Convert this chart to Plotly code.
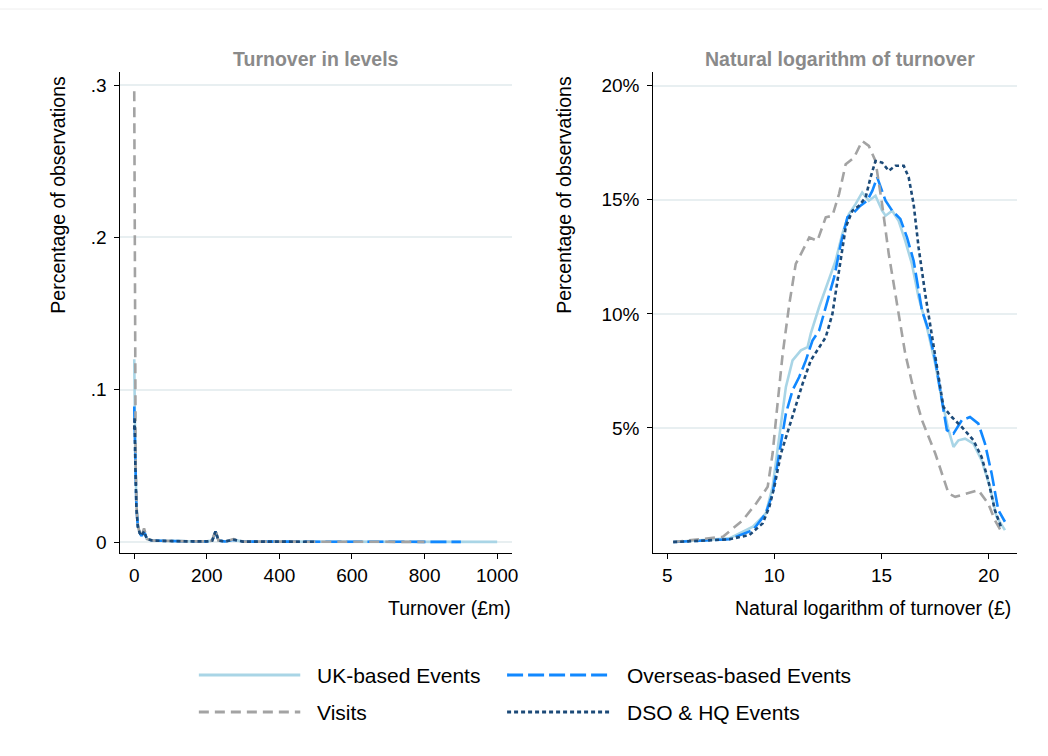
import plotly.graph_objects as go

# ---------------- data: turnover in levels (£m) ----------------
lvl_uk_x = [0, 1, 3, 6, 10, 15, 20, 27, 35, 50, 75, 100, 150, 200, 215, 224, 232, 250, 274, 300, 400, 500, 600, 700, 800, 900, 1000]
lvl_uk_y = [0.120, 0.095, 0.055, 0.025, 0.011, 0.006, 0.004, 0.007, 0.002, 0.001, 0.0008, 0.0006, 0.0004, 0.0004, 0.001, 0.007, 0.001, 0.0004, 0.0015, 0.0003, 0.0002, 0.0002, 0.0001, 0.0001, 0.0001, 0.0001, 0.0001]

lvl_os_x = [0, 1, 3, 6, 10, 15, 20, 27, 35, 50, 75, 100, 150, 200, 215, 224, 232, 250, 274, 300, 400, 500, 600, 700, 800, 900]
lvl_os_y = [0.089, 0.075, 0.045, 0.022, 0.010, 0.006, 0.004, 0.007, 0.002, 0.001, 0.0008, 0.0006, 0.0004, 0.0004, 0.001, 0.007, 0.001, 0.0004, 0.0015, 0.0003, 0.0002, 0.0002, 0.0001, 0.0001, 0.0001, 0.0001]

lvl_vi_x = [0, 0.5, 2, 4, 7, 10, 15, 20, 27, 35, 50, 75, 100, 150, 200, 215, 224, 232, 250, 274, 300, 400, 500, 600, 700, 800]
lvl_vi_y = [0.296, 0.25, 0.12, 0.05, 0.02, 0.011, 0.006, 0.004, 0.009, 0.002, 0.001, 0.0008, 0.0006, 0.0004, 0.0004, 0.001, 0.008, 0.001, 0.0004, 0.002, 0.0003, 0.0002, 0.0002, 0.0001, 0.0001, 0.0001]

lvl_hq_x = [0, 1, 3, 6, 10, 15, 20, 27, 35, 50, 75, 100, 150, 200, 215, 224, 232, 250, 274, 300, 400, 500]
lvl_hq_y = [0.074, 0.082, 0.050, 0.022, 0.010, 0.006, 0.004, 0.007, 0.002, 0.001, 0.0008, 0.0006, 0.0004, 0.0004, 0.001, 0.007, 0.001, 0.0004, 0.0015, 0.0003, 0.0002, 0.0002]

# ---------------- data: natural logarithm of turnover (%) ----------------
log_uk_x = [5.28, 7.9, 9.0, 9.6, 9.92, 10.23, 10.54, 10.85, 11.24, 11.55, 11.7, 12.09, 12.48, 12.86, 13.17, 13.48, 13.79, 14.1, 14.41, 14.72, 15.03, 15.19, 15.5, 15.8, 16.11, 16.42, 16.73, 17.12, 17.51, 17.82, 18.13, 18.36, 18.59, 18.9, 19.29, 19.67, 20.06, 20.37, 20.76]
log_uk_y = [0.0, 0.16, 0.67, 1.25, 2.42, 4.6, 6.8, 7.96, 8.4, 8.54, 9.13, 10.3, 11.31, 12.33, 13.5, 14.37, 14.81, 15.32, 14.96, 15.18, 14.52, 14.3, 14.52, 14.08, 13.2, 12.19, 10.73, 9.42, 7.81, 6.21, 4.9, 4.17, 4.46, 4.53, 4.31, 3.59, 2.42, 1.11, 0.52]

log_os_x = [5.28, 7.9, 9.0, 9.6, 9.92, 10.23, 10.54, 10.85, 11.16, 11.47, 11.78, 12.09, 12.48, 12.79, 13.1, 13.41, 13.72, 14.02, 14.33, 14.57, 14.8, 14.96, 15.19, 15.5, 15.88, 16.19, 16.5, 16.89, 17.2, 17.51, 17.82, 18.05, 18.36, 18.75, 19.13, 19.52, 19.83, 20.14, 20.45, 20.76]
log_os_y = [0.0, 0.12, 0.52, 1.25, 2.13, 3.88, 5.63, 6.65, 7.23, 7.96, 8.83, 9.27, 10.58, 11.6, 13.06, 14.23, 14.45, 14.74, 14.96, 15.39, 15.98, 15.54, 14.96, 14.52, 14.16, 13.35, 12.33, 10.15, 9.27, 7.96, 6.21, 4.9, 4.75, 5.34, 5.48, 5.19, 4.31, 3.0, 1.4, 0.89]

log_vi_x = [5.28, 7.6, 8.53, 9.15, 9.69, 9.92, 10.15, 10.39, 10.7, 11.0, 11.32, 11.63, 12.01, 12.4, 12.71, 13.02, 13.33, 13.72, 14.1, 14.41, 14.72, 15.03, 15.34, 15.73, 16.11, 16.58, 16.89, 17.51, 18.13, 18.44, 19.06, 19.52, 19.98, 20.29, 20.6]
log_vi_y = [0.0, 0.23, 0.96, 1.69, 2.42, 3.88, 6.06, 8.25, 10.44, 12.19, 12.77, 13.35, 13.2, 14.23, 14.3, 15.25, 16.56, 16.85, 17.58, 17.36, 16.7, 14.8, 12.62, 10.44, 8.25, 6.36, 5.34, 3.88, 2.13, 1.98, 2.13, 2.27, 1.69, 0.96, 0.45]

log_hq_x = [5.28, 7.9, 8.84, 9.46, 9.77, 10.0, 10.31, 10.7, 11.0, 11.32, 11.7, 12.01, 12.4, 12.71, 13.02, 13.33, 13.64, 13.95, 14.26, 14.49, 14.72, 15.03, 15.34, 15.65, 16.04, 16.27, 16.5, 16.73, 17.04, 17.35, 17.66, 17.89, 18.28, 18.75, 19.29, 19.67, 19.98, 20.29, 20.6]
log_hq_y = [0.0, 0.12, 0.31, 0.82, 1.55, 2.42, 3.88, 5.04, 5.92, 6.94, 7.96, 8.4, 8.98, 10.0, 11.9, 13.79, 14.52, 14.74, 15.1, 15.98, 16.7, 16.63, 16.27, 16.49, 16.49, 15.98, 14.81, 12.92, 10.88, 9.13, 7.38, 5.92, 5.48, 5.04, 4.46, 3.73, 2.71, 1.4, 0.6]

series_names = ["UK-based Events", "Overseas-based Events", "Visits", "DSO & HQ Events"]
lvl_xtick_vals = [0, 200, 400, 600, 800, 1000]
lvl_ytick_vals = [0, 0.1, 0.2, 0.3]
lvl_ytick_text = ["0", ".1", ".2", ".3"]
log_xtick_vals = [5, 10, 15, 20]
log_ytick_vals = [5, 10, 15, 20]
log_ytick_text = ["5%", "10%", "15%", "20%"]

# ---------------- styles ----------------
W, H = 1048, 756
colors = ["#a9d5e6", "#1188ff", "#a3a3a3", "#1c4a78"]
dashes = ["solid", "16px,5px", "10px,6px", "4px,3px"]
widths = [2.6, 2.6, 2.6, 2.6]
FONT = "Liberation Sans, Arial, Helvetica, sans-serif"


def px(x):
    return x / W


def py(y):
    return 1 - y / H


fig = go.Figure()

lvl = [(lvl_uk_x, lvl_uk_y), (lvl_os_x, lvl_os_y), (lvl_vi_x, lvl_vi_y), (lvl_hq_x, lvl_hq_y)]
lg = [(log_uk_x, log_uk_y), (log_os_x, log_os_y), (log_vi_x, log_vi_y), (log_hq_x, log_hq_y)]
draw_order = [0, 1, 2, 3]
for i in draw_order:
    fig.add_trace(go.Scatter(x=lvl[i][0], y=lvl[i][1], mode="lines", name=series_names[i],
                             line=dict(color=colors[i], dash=dashes[i], width=widths[i]),
                             xaxis="x", yaxis="y", showlegend=False))
for i in draw_order:
    fig.add_trace(go.Scatter(x=lg[i][0], y=lg[i][1], mode="lines", name=series_names[i],
                             line=dict(color=colors[i], dash=dashes[i], width=widths[i]),
                             xaxis="x2", yaxis="y2", showlegend=False))

ydom = [py(553), py(72)]
axis_common = dict(showline=True, linecolor="black", linewidth=1, ticks="outside",
                   ticklen=5, tickwidth=1, tickcolor="black", zeroline=False,
                   tickfont=dict(size=19, color="black", family=FONT))

fig.update_layout(
    width=W, height=H, margin=dict(l=0, r=0, t=0, b=0),
    paper_bgcolor="white", plot_bgcolor="white",
    font=dict(family=FONT, size=19, color="black"),
    showlegend=False,
    xaxis=dict(domain=[px(121), px(515)], range=[-38.4, 1041], tickvals=lvl_xtick_vals,
               showgrid=False, anchor="y", **axis_common),
    yaxis=dict(domain=ydom, range=[-0.0072, 0.3086], tickvals=lvl_ytick_vals, ticktext=lvl_ytick_text,
               showgrid=True, gridcolor="#e8eff1", gridwidth=1.5, anchor="x",
               ticklabelstandoff=4, **axis_common),
    xaxis2=dict(domain=[px(657), px(1023)], range=[4.35, 21.33], tickvals=log_xtick_vals,
                showgrid=False, anchor="y2", **axis_common),
    yaxis2=dict(domain=ydom, range=[-0.48, 20.6], tickvals=log_ytick_vals, ticktext=log_ytick_text,
                showgrid=True, gridcolor="#e8eff1", gridwidth=1.5, anchor="x2",
                ticklabelstandoff=4, **axis_common),
)

annotations = [
    dict(text="<b>Turnover in levels</b>", x=px(318), y=py(59), font=dict(size=19.5, color="#8a8a8a")),
    dict(text="<b>Natural logarithm of turnover</b>", x=px(845), y=py(59), font=dict(size=19.5, color="#8a8a8a")),
    dict(text="Percentage of observations", x=px(58), y=py(195), textangle=-90, font=dict(size=19.5)),
    dict(text="Percentage of observations", x=px(567), y=py(195), textangle=-90, font=dict(size=19.5)),
    dict(text="Turnover (£m)", x=px(516), y=py(608), xanchor="right", font=dict(size=19.5)),
    dict(text="Natural logarithm of turnover (£)", x=px(1019), y=py(608), xanchor="right", font=dict(size=19.5)),
]

# legend (manual, two columns)
leg_rows = [py(675), py(712)]
leg_cols = [(200, 302, 317), (510, 613, 629)]
leg_pos = [(0, 0), (0, 1), (1, 0), (1, 1)]  # (row, col) per series
shapes = [dict(type="line", xref="paper", yref="paper", x0=0, x1=1, y0=py(9), y1=py(9),
               line=dict(color="#eeeeee", width=1))]
for i, (r, c) in enumerate(leg_pos):
    x0, x1, xt = leg_cols[c]
    shapes.append(dict(type="line", xref="paper", yref="paper", x0=px(x0), x1=px(x1),
                       y0=leg_rows[r], y1=leg_rows[r],
                       line=dict(color=colors[i], dash=dashes[i], width=widths[i] + 0.6)))
    annotations.append(dict(text=series_names[i], x=px(xt), y=leg_rows[r], xanchor="left",
                            font=dict(size=21)))

for a in annotations:
    a.setdefault("xref", "paper")
    a.setdefault("yref", "paper")
    a.setdefault("showarrow", False)
    a.setdefault("xanchor", "center")
    a.setdefault("yanchor", "middle")
    f = a.get("font", {})
    f.setdefault("family", FONT)
    f.setdefault("size", 19)
    f.setdefault("color", "black")
    a["font"] = f

fig.update_layout(annotations=annotations, shapes=shapes)
fig.write_html("out.html")
